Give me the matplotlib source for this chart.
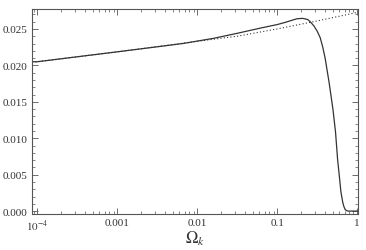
import numpy as np
import matplotlib
matplotlib.use('Agg')
import matplotlib.pyplot as plt
from matplotlib.ticker import FixedLocator, MultipleLocator, LogLocator, NullFormatter

# solid curve (log10 of Omega_k, value)
logx_solid = [-4.066, -4.0, -3.5, -3.0, -2.5, -2.18, -1.8, -1.5, -1.216, -1.0, -0.9, -0.753,
              -0.68, -0.62, -0.587, -0.54, -0.5, -0.462, -0.43, -0.399, -0.35, -0.303,
              -0.27, -0.245, -0.22, -0.203, -0.18, -0.165, -0.149, -0.13, -0.11, 0.0]
y_solid = [0.0205, 0.0205, 0.02118, 0.02186, 0.02255, 0.0230, 0.0237, 0.0244, 0.0251, 0.0256, 0.0259, 0.0264,
           0.02645, 0.0263, 0.0260, 0.0254, 0.0247, 0.0238, 0.0225, 0.0209, 0.0176, 0.0140,
           0.0108, 0.00715, 0.0045, 0.00264, 0.0012, 0.0006, 0.0002, 0.00005, 0.0, 0.0]

# dotted reference line
logx_dot = [-4.066, -4.0, -3.0, -2.0, -1.5, -1.0, -0.5, 0.0, 0.01]
y_dot = [0.0204, 0.0205, 0.02185, 0.0233, 0.0240, 0.0250, 0.0261, 0.02726, 0.0273]

xticks = [1e-4, 1e-3, 1e-2, 1e-1, 1]
xticklabels = [r'$10^{-4}$', '0.001', '0.01', '0.1', '1']
yticks = [0.0, 0.005, 0.010, 0.015, 0.020, 0.025]

plt.rcParams['font.family'] = 'Liberation Serif'
plt.rcParams['mathtext.fontset'] = 'stix'

fig = plt.figure(figsize=(3.66, 2.51), dpi=100)
ax = fig.add_axes([0.0874, 0.1434, 0.8906, 0.8186])

col = '#333333'
ax.plot(10**np.array(logx_solid), y_solid, color=col, lw=0.9)
ax.plot(10**np.array(logx_dot), y_dot, color=col, lw=0.8, ls=(0, (1, 2)))

ax.set_xscale('log')
ax.set_xlim(10**-4.066, 10**0.01)
ax.set_ylim(-0.0004, 0.0278)

ax.xaxis.set_major_locator(FixedLocator(xticks))
ax.set_xticklabels(xticklabels)
ax.xaxis.set_minor_locator(LogLocator(base=10, subs=np.arange(2, 10)))
ax.xaxis.set_minor_formatter(NullFormatter())
ax.yaxis.set_major_locator(FixedLocator(yticks))
ax.set_yticklabels(['%.3f' % v for v in yticks])
ax.yaxis.set_minor_locator(MultipleLocator(0.001))

ax.tick_params(which='both', direction='in', top=True, right=True, color='#555555',
               labelsize=8, labelcolor='#333333', pad=3)
ax.tick_params(which='major', length=4, width=0.6)
ax.tick_params(which='minor', length=2, width=0.5)
for s in ax.spines.values():
    s.set_color('#555555')
    s.set_linewidth(0.8)

ax.set_xlabel(r'$\Omega_k$', fontsize=12, color='#333333', va='center')
ax.xaxis.set_label_coords(0.5, -0.115)

fig.savefig('out.png', dpi=100)
